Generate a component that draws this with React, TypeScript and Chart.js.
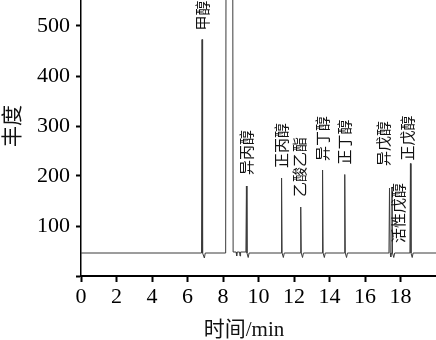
import React, { useEffect, useRef } from 'react';
import { Chart, registerables } from 'chart.js';

Chart.register(...registerables);

// Chromatogram trace (time in min, abundance)
const traceTimes = [
  0, 6.79, 6.82, 6.85, 6.95, 7.0,
  8.15, 8.18, 8.54, 8.57, 8.74, 8.77, 8.8, 8.93, 8.96, 8.99,
  9.29, 9.32, 9.35, 9.42, 9.47,
  11.27, 11.3, 11.33, 11.4, 11.45,
  12.35, 12.38, 12.41, 12.48, 12.53,
  13.58, 13.61, 13.64, 13.71, 13.76,
  14.83, 14.86, 14.89, 14.96, 15.01,
  17.35, 17.38, 17.42, 17.45, 17.49, 17.52, 17.55, 17.62, 17.67,
  18.53, 18.56, 18.59, 18.66, 18.71,
  20,
];
const traceValues = [
  46, 46, 473, 46, 36, 46,
  46, 900, 900, 48, 48, 40, 48, 48, 40, 48,
  48, 180, 46, 37, 46,
  46, 196, 46, 37, 46,
  46, 138, 46, 37, 46,
  46, 212, 46, 37, 46,
  46, 203, 46, 37, 46,
  46, 176, 46, 38, 46, 178, 46, 37, 46,
  46, 225, 46, 37, 46,
  46,
];

// Peak annotations
const peakNames = ['甲醇', '异丙醇', '正丙醇', '乙酸乙酯', '异丁醇', '正丁醇', '异戊醇', '活性戊醇', '正戊醇'];
const peakTimes = [6.82, 9.32, 11.3, 12.38, 13.61, 14.86, 17.38, 17.52, 18.56];
const peakHeights = [473, 180, 196, 138, 212, 203, 176, 178, 225];

const xTicks = [0, 2, 4, 6, 8, 10, 12, 14, 16, 18];
const yTicks = [0, 100, 200, 300, 400, 500];

const xTitle = '时间/min';
const yTitle = '丰度';

// label placement tweaks (px): [dx, gap above peak top]
const labelTweaks: [number, number][] = [
  [0, 9], [0, 11], [0, 10], [-1, 10], [0, 9], [0, 10], [-6, 22], [6, -56], [-3, 3],
];

const annotationPlugin = {
  id: 'annot',
  afterDatasetsDraw(chart: any) {
    const { ctx, scales } = chart;
    const xs = scales.x;
    const ys = scales.y;
    ctx.save();
    ctx.fillStyle = '#111';
    ctx.font = "15px 'Noto Sans CJK SC'";
    ctx.textAlign = 'left';
    ctx.textBaseline = 'middle';
    peakNames.forEach((name, i) => {
      const [dx, gap] = labelTweaks[i];
      const px = xs.getPixelForValue(peakTimes[i]) + dx;
      const top = ys.getPixelForValue(peakHeights[i]);
      ctx.save();
      ctx.translate(px, top - gap);
      ctx.rotate(-Math.PI / 2);
      ctx.fillText(name, 0, 0);
      ctx.restore();
    });
    ctx.restore();
  },
  afterDraw(chart: any) {
    const { ctx, chartArea } = chart;
    ctx.save();
    ctx.fillStyle = '#111';
    ctx.font = "21px 'Liberation Serif', 'Noto Sans CJK SC'";
    ctx.textAlign = 'center';
    ctx.textBaseline = 'middle';
    ctx.fillText(xTitle, chartArea.left + 163, 330);
    ctx.translate(13, 126);
    ctx.rotate(-Math.PI / 2);
    ctx.fillText(yTitle, 0, 0);
    ctx.restore();
  },
};

export default function App() {
  const ref = useRef<HTMLCanvasElement | null>(null);
  useEffect(() => {
    if (!ref.current) return;
    const chart = new Chart(ref.current, {
      type: 'line',
      data: {
        datasets: [
          {
            data: traceTimes.map((t, i) => ({ x: t, y: traceValues[i] })),
            borderColor: '#3a3a3a',
            borderWidth: 1,
            pointRadius: 0,
            tension: 0,
            fill: false,
          },
        ],
      },
      options: {
        responsive: false,
        animation: false,
        layout: { padding: 0 },
        plugins: { legend: { display: false }, tooltip: { enabled: false } },
        scales: {
          x: {
            type: 'linear',
            min: 0,
            max: 20,
            afterBuildTicks: (s: any) => { s.ticks = xTicks.map((v) => ({ value: v })); },
            afterFit: (s: any) => { s.height = 64; s.paddingLeft = 0; s.paddingRight = 0; },
            ticks: {
              color: '#000',
              font: { family: "'Liberation Serif'", size: 22 },
              padding: 2,
              maxRotation: 0,
              autoSkip: false,
            },
            grid: { drawOnChartArea: false, drawTicks: true, tickLength: 6, tickWidth: 2, tickColor: '#000' },
            border: { display: true, color: '#000', width: 2 },
          },
          y: {
            type: 'linear',
            min: 0,
            max: 552,
            afterBuildTicks: (s: any) => { s.ticks = yTicks.map((v) => ({ value: v })); },
            afterFit: (s: any) => { s.width = 81; s.paddingTop = 0; s.paddingBottom = 0; },
            ticks: {
              color: '#000',
              font: { family: "'Liberation Serif'", size: 22 },
              padding: 6,
              callback: (v: any) => (v === 0 ? '' : String(v)),
              autoSkip: false,
            },
            grid: { drawOnChartArea: false, drawTicks: true, tickLength: 5, tickWidth: 2, tickColor: '#000' },
            border: { display: true, color: '#000', width: 1.5 },
          },
        },
      },
      plugins: [annotationPlugin],
    } as any);
    return () => chart.destroy();
  }, []);
  return (
    <div style={{ position: 'fixed', left: 0, top: 0, width: 436, height: 340, background: '#fff' }}>
      <canvas ref={ref} width={436} height={340} style={{ display: 'block' }} />
    </div>
  );
}
